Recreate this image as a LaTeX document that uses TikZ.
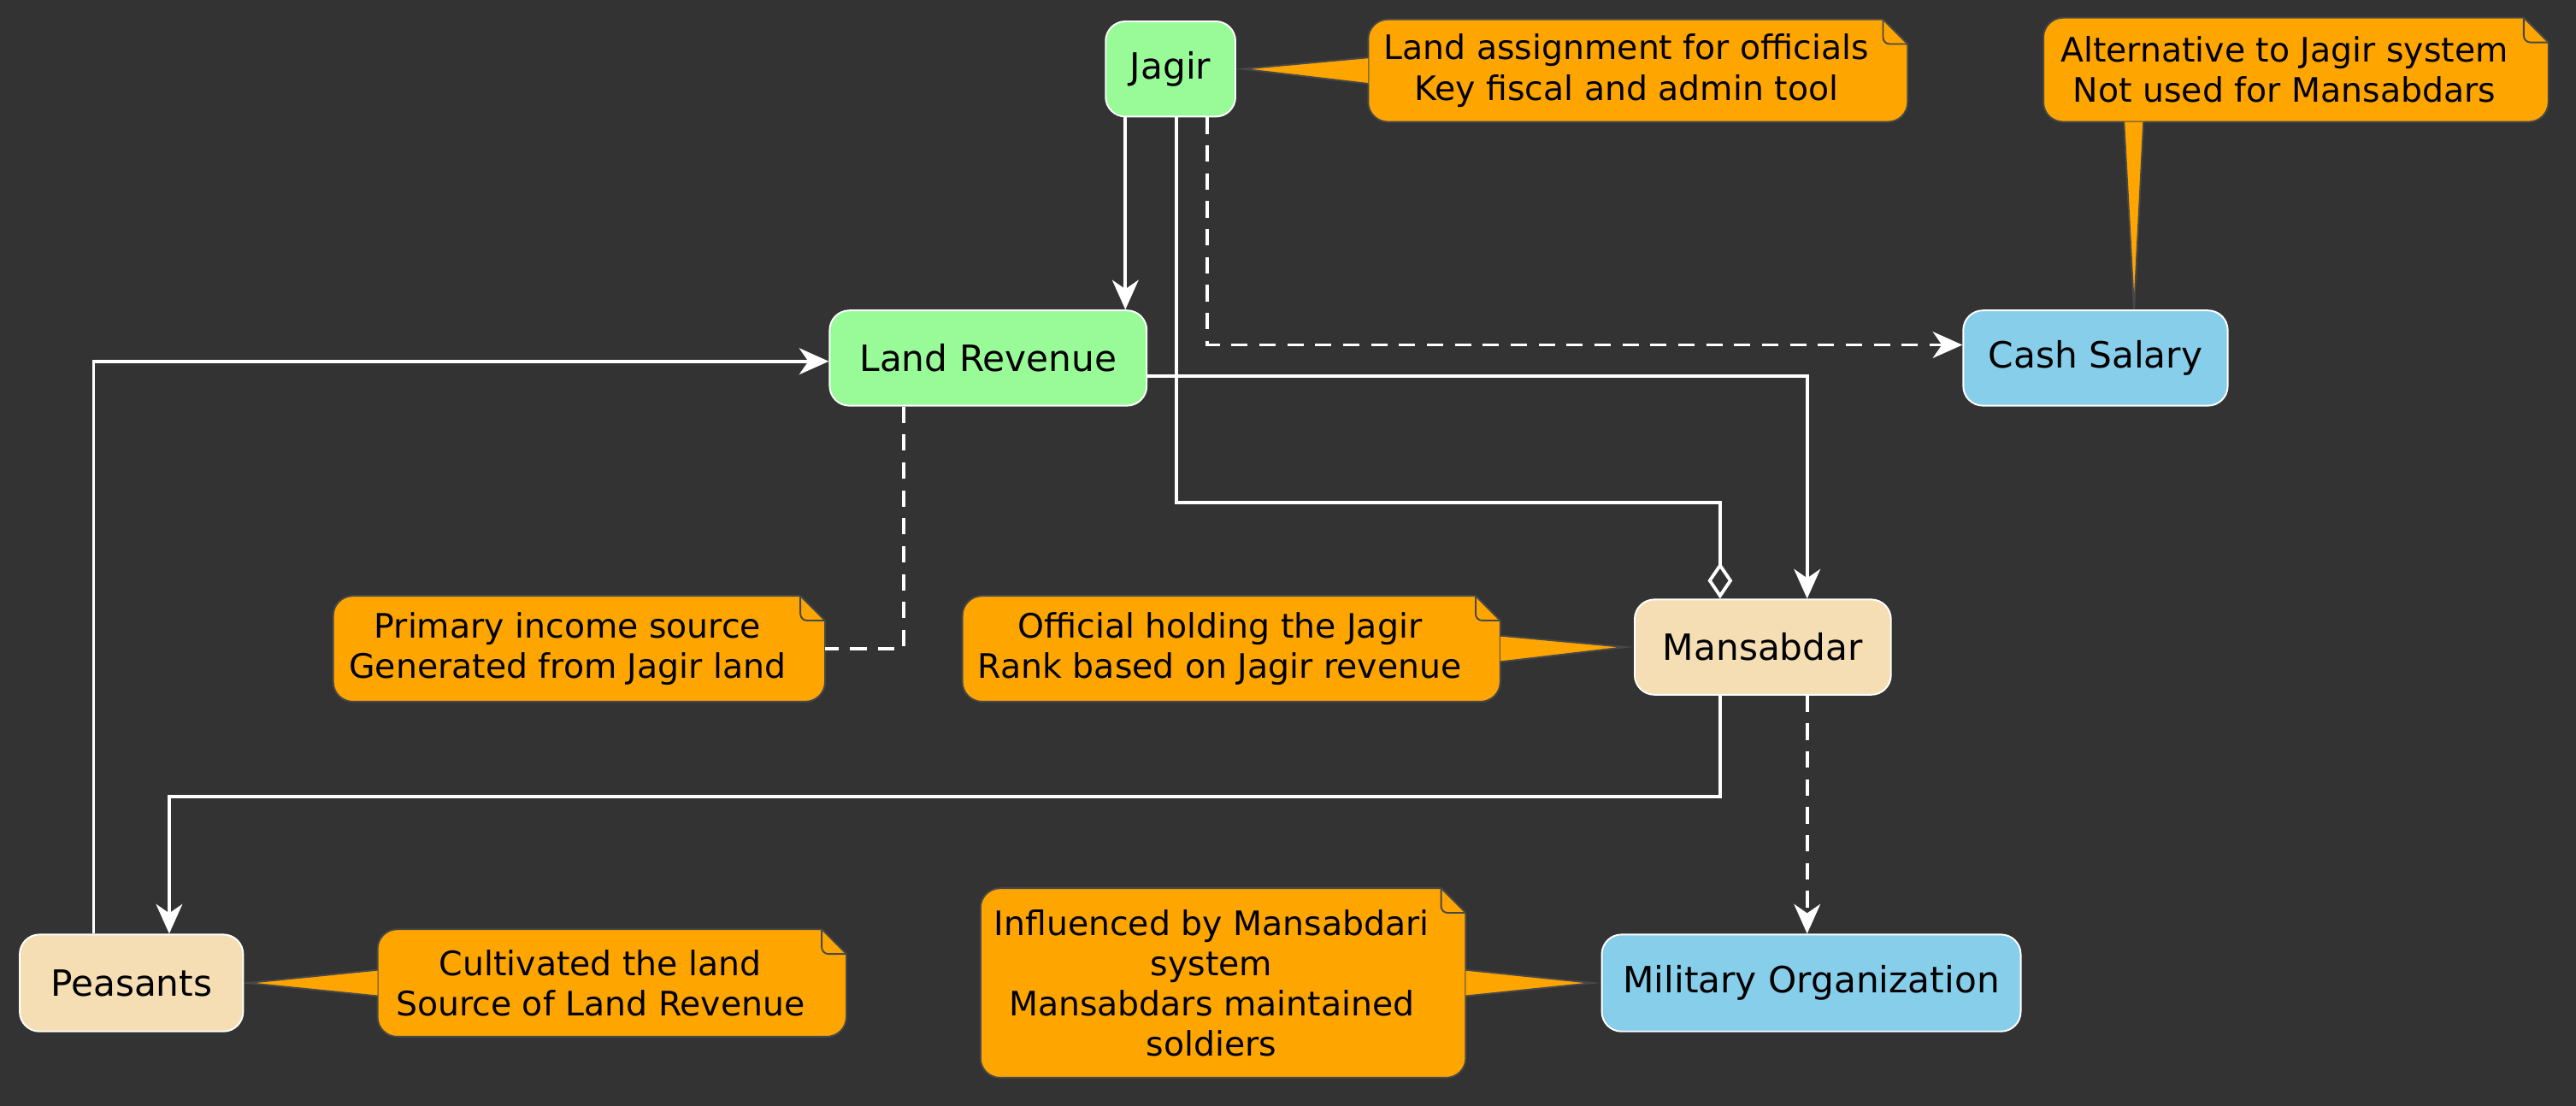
\documentclass[tikz,border=0pt]{standalone}
\usepackage{fontspec}
\setmainfont{DejaVu Sans}
\usetikzlibrary{arrows.meta}
\definecolor{bgc}{RGB}{51,51,51}
\definecolor{grn}{RGB}{152,251,152}
\definecolor{sky}{RGB}{135,206,235}
\definecolor{whe}{RGB}{245,222,179}
\definecolor{org}{RGB}{255,165,0}
\definecolor{nbd}{RGB}{72,72,72}
\pgfdeclarelayer{back}\pgfdeclarelayer{mid}\pgfsetlayers{back,mid,main}
\newcommand\boxfnt{\fontsize{22}{26}\selectfont}
\newcommand\notefnt{\fontsize{20.5}{24.5}\selectfont}
\newcommand\notebox[1]{%
\begin{pgfonlayer}{mid}
\path[fill=org,draw=nbd,line width=1pt,rounded corners=12pt]
  (#1.south west) rectangle ([xshift=14pt]#1.north east);
\fill[bgc] ([xshift=-1pt]#1.north east) -- ([xshift=-1pt,yshift=2pt]#1.north east) -- ([xshift=16pt,yshift=2pt]#1.north east) -- ([xshift=16pt,yshift=-15pt]#1.north east) -- ([xshift=14pt,yshift=-15pt]#1.north east) -- cycle;
\draw[nbd,line width=1pt] ([xshift=-1pt]#1.north east) -- ([xshift=14pt,yshift=-15pt]#1.north east);
\draw[nbd,line width=1pt,rounded corners=4pt] ([xshift=-1pt]#1.north east) -- ([xshift=-1pt,yshift=-15pt]#1.north east) -- ([xshift=14pt,yshift=-15pt]#1.north east);
\end{pgfonlayer}}
\newcommand\pointer[3]{%
\begin{pgfonlayer}{mid}
\fill[org] #1 -- #2 -- #3 -- cycle;
\draw[nbd,line width=1pt] #2 -- #1 -- #3;
\end{pgfonlayer}}
\tikzset{
  box/.style={rectangle, rounded corners=12pt, draw=white, line width=1pt, font=\boxfnt, text=black, inner sep=0pt},
  notetext/.style={rectangle, inner sep=0pt, align=center, font=\notefnt, text=black},
  link/.style={draw=white, line width=2pt},
  arr/.style={-{Stealth[length=18pt,width=16pt,inset=5.5pt]}},
  dashedline/.style={dash pattern=on 10pt off 7pt},
}
\begin{document}
\begin{tikzpicture}[x=1pt,y=-1pt]
\useasboundingbox (0,0) rectangle (1568,673);
\begin{pgfonlayer}{back}
\fill[bgc] (-6,-6) rectangle (1574,679);
\end{pgfonlayer}

% main nodes
\node[box, fill=grn, minimum width=79pt, minimum height=58pt] (jagir) at (712.5,42) {Jagir};
\node[box, fill=grn, minimum width=193pt, minimum height=58pt] (landrev) at (601.5,218) {Land Revenue};
\node[box, fill=sky, minimum width=161pt, minimum height=58pt] (cash) at (1275.5,218) {Cash Salary};
\node[box, fill=whe, minimum width=156pt, minimum height=58pt] (mansabdar) at (1073,394) {Mansabdar};
\node[box, fill=whe, minimum width=136pt, minimum height=59pt] (peasants) at (80,598.5) {Peasants};
\node[box, fill=sky, minimum width=255pt, minimum height=59pt] (military) at (1102.5,598.5) {Military Organization};

% notes
\node[notetext, minimum width=314pt, minimum height=62pt] (noteA) at (990,43) {Land assignment for officials\\Key fiscal and admin tool};
\node[notetext, minimum width=293pt, minimum height=63pt] (noteB) at (1390.5,42.5) {Alternative to Jagir system\\Not used for Mansabdars};
\node[notetext, minimum width=285pt, minimum height=64pt] (noteC) at (345.5,395) {Primary income source\\Generated from Jagir land};
\node[notetext, minimum width=313pt, minimum height=64pt] (noteD) at (742.5,395) {Official holding the Jagir\\Rank based on Jagir revenue};
\node[notetext, minimum width=271pt, minimum height=65pt] (noteE) at (365.5,598.5) {Cultivated the land\\Source of Land Revenue};
\node[notetext, minimum width=281pt, minimum height=115pt] (noteF) at (737.5,598.5) {Influenced by Mansabdari\\system\\Mansabdars maintained\\soldiers};

\notebox{noteA}\notebox{noteB}\notebox{noteC}\notebox{noteD}\notebox{noteE}\notebox{noteF}
\pointer{([xshift=4pt]jagir.east)}{([yshift=8pt]noteA.west)}{([yshift=-8pt]noteA.west)}
\pointer{([xshift=23.5pt]cash.north)}{([xshift=49pt]noteB.south west)}{([xshift=61pt]noteB.south west)}
\pointer{([xshift=-5pt]mansabdar.west)}{([xshift=14pt,yshift=8pt]noteD.east)}{([xshift=14pt,yshift=-8pt]noteD.east)}
\pointer{([xshift=2pt]peasants.east)}{([yshift=8pt]noteE.west)}{([yshift=-8pt]noteE.west)}
\pointer{([xshift=-5pt]military.west)}{([xshift=14pt,yshift=8pt]noteF.east)}{([xshift=14pt,yshift=-8pt]noteF.east)}

% bend points
\coordinate (b1) at (1047,306);
\coordinate (b2) at (103,485);

% connectors
\draw[link,arr] ([xshift=-27.5pt]jagir.south) -- ([xshift=-27.5pt]jagir.south |- landrev.north);
\draw[link,-{Diamond[open,length=22pt,width=15pt]}] ([xshift=3.5pt]jagir.south) |- (b1) -- ([xshift=-26pt]mansabdar.north);
\draw[link,arr,dashedline] ([xshift=22.5pt]jagir.south) |- ([yshift=8pt]cash.west);
\draw[link,arr] ([yshift=-11pt]landrev.east) -| ([xshift=27pt]mansabdar.north);
\draw[link,arr] ([xshift=-23pt]peasants.north) |- ([yshift=-2pt]landrev.west);
\draw[link,arr] ([xshift=-26pt]mansabdar.south) |- (b2) -- ([xshift=23pt]peasants.north);
\draw[link,arr,dashedline] ([xshift=27pt]mansabdar.south) -- ([xshift=27pt]mansabdar.south |- military.north);
\draw[link,dashedline] ([xshift=-51.5pt]landrev.south) |- ([xshift=14pt]noteC.east);
\end{tikzpicture}
\end{document}
